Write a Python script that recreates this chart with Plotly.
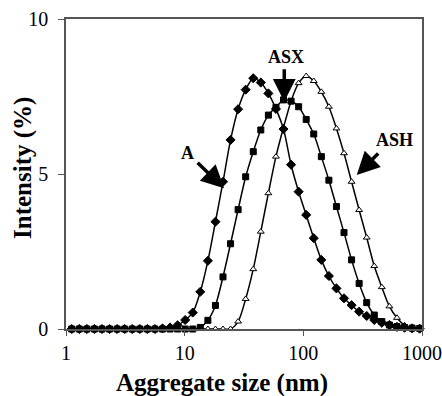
import numpy as np
import plotly.graph_objects as go

sizes_nm = [1.117, 1.294, 1.499, 1.736, 2.01, 2.328, 2.696, 3.122, 3.615, 4.187,
            4.849, 5.615, 6.503, 7.531, 8.721, 10.1, 11.7, 13.54, 15.69, 18.17,
            21.04, 24.36, 28.21, 32.67, 37.84, 43.82, 50.75, 58.77, 68.06, 78.82,
            91.28, 105.7, 122.4, 141.8, 164.2, 190.1, 220.2, 255, 295.3, 342,
            396.1, 458.7, 531.2, 615.1, 712.4, 825, 955.4]

intensity_A = [0, 0, 0, 0, 0, 0, 0, 0, 0, 0,
               0, 0, 0.02, 0.05, 0.12, 0.29, 0.53, 1.2, 2.2, 3.46,
               4.75, 6.1, 7.09, 7.72, 8.09, 7.95, 7.6, 7.1, 6.45, 5.3,
               4.43, 3.68, 2.93, 2.23, 1.71, 1.31, 0.99, 0.77, 0.56, 0.42,
               0.29, 0.2, 0.13, 0.07, 0.04, 0.02, 0.01]

intensity_ASX = [0, 0, 0, 0, 0, 0, 0, 0, 0, 0,
                 0, 0, 0, 0, 0, 0, 0, 0.05, 0.28, 0.76,
                 1.68, 2.75, 3.85, 4.91, 5.72, 6.42, 6.9, 7.15, 7.39, 7.35,
                 7.17, 6.76, 6.29, 5.56, 4.8, 3.95, 3.11, 2.23, 1.47, 0.85,
                 0.45, 0.24, 0.13, 0.08, 0.05, 0.03, 0.02]

intensity_ASH = [0, 0, 0, 0, 0, 0, 0, 0, 0, 0,
                 0, 0, 0, 0, 0, 0, 0, 0, 0, 0,
                 0, 0, 0.24, 0.97, 1.93, 3.14, 4.38, 5.56, 6.5, 7.35,
                 7.93, 8.16, 8.0, 7.65, 7.17, 6.47, 5.67, 4.75, 3.84, 2.95,
                 2.03, 1.35, 0.73, 0.36, 0.12, 0.03, 0.0]

x_ticks = [1, 10, 100, 1000]
y_ticks = [0, 5, 10]
x_title = "Aggregate size (nm)"
y_title = "Intensity (%)"

# labels: (text, arrow tip x, arrow tip y, tail dx px, tail dy px, text x, text y)
labels = [
    ("A", 21.5, 4.54, -28, -27, 10.5, 5.68),
    ("ASX", 69.1, 7.33, 0, -34, 71.9, 8.77),
    ("ASH", 281.7, 4.97, 23, -23, 586.0, 6.1),
]

serif = "Liberation Serif, Times New Roman, serif"

fig = go.Figure()
for name, ys, sym, fill, sz in [("ASH", intensity_ASH, "triangle-up", "white", 6),
                                 ("ASX", intensity_ASX, "square", "black", 6),
                                 ("A", intensity_A, "diamond", "black", 7)]:
    fig.add_trace(go.Scatter(
        x=sizes_nm, y=ys, mode="lines+markers", name=name,
        line=dict(color="black", width=1.5, shape="spline", smoothing=0.8),
        marker=dict(symbol=sym, size=sz, color=fill, line=dict(color="black", width=1)),
        cliponaxis=False, showlegend=False))

for text, tx, ty, dx, dy, lx, ly in labels:
    fig.add_annotation(x=np.log10(tx), y=ty, xref="x", yref="y", text="",
                       showarrow=True, ax=dx, ay=dy, arrowhead=2, arrowsize=1.3,
                       arrowwidth=3.5, arrowcolor="black", standoff=0)
    fig.add_annotation(x=np.log10(lx), y=ly, xref="x", yref="y", text="<b>%s</b>" % text,
                       showarrow=False, font=dict(family=serif, size=18, color="black"))

# axis titles (placed as in the reference, slightly off-centre)
fig.add_annotation(x=(222 - 66) / 356, y=(329 - 383) / 310, xref="paper", yref="paper",
                   text="<b>%s</b>" % x_title, showarrow=False, xanchor="center", yanchor="middle",
                   font=dict(family=serif, size=25, color="black"))
fig.add_annotation(x=(23 - 66) / 356, y=(329 - 168) / 310, xref="paper", yref="paper",
                   text="<b>%s</b>" % y_title, showarrow=False, textangle=-90,
                   xanchor="center", yanchor="middle",
                   font=dict(family=serif, size=25, color="black"))

fig.update_xaxes(type="log", range=[0, 3], tickvals=x_ticks, ticktext=[str(v) for v in x_ticks],
                 showline=True, mirror=True, linecolor="#555", linewidth=1.5,
                 ticks="outside", ticklen=5, tickcolor="#555", showgrid=False, zeroline=False,
                 automargin=False,
                 tickfont=dict(family=serif, size=20, color="black"), ticklabelstandoff=0)
fig.update_yaxes(range=[0, 10], tickvals=y_ticks,
                 showline=True, mirror=True, linecolor="#555", linewidth=1.5,
                 ticks="outside", ticklen=6, tickcolor="#555", showgrid=False, zeroline=False,
                 automargin=False,
                 tickfont=dict(family=serif, size=20, color="black"), ticklabelstandoff=6)

fig.update_layout(width=442, height=396, margin=dict(l=66, r=20, t=19, b=67),
                  paper_bgcolor="white", plot_bgcolor="white")

fig.write_html("out.html", config={"displayModeBar": False},
               post_script="document.body.style.margin='0';document.body.style.overflow='hidden';")
